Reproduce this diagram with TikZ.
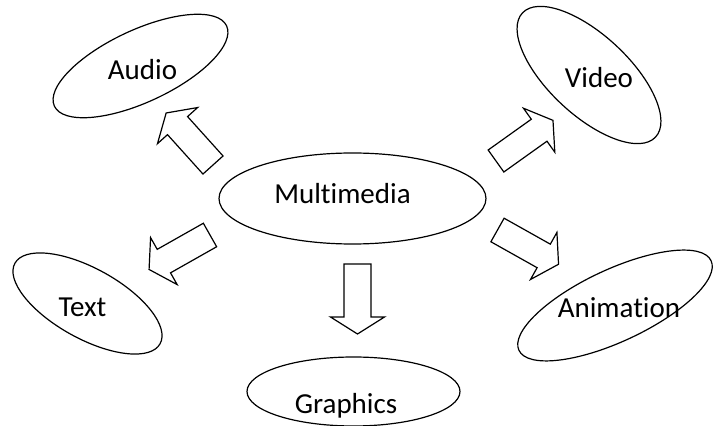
\documentclass[tikz,border=0pt]{standalone}
\usepackage{fontspec}
\setmainfont[Ligatures={NoCommon}]{Carlito}
\usetikzlibrary{shapes.geometric}
\tikzset{
  bubble/.style={draw, ellipse, inner sep=0pt, line width=1.2pt},
  lbl/.style={anchor=base, inner sep=0pt, font=\fontsize{29}{33}\selectfont},
  blockarr/.pic={\draw[line width=1.2pt, line join=miter]
     (0,13.5) -- (53,13.5) -- (53,27) -- (70,0) -- (53,-27) -- (53,-13.5) -- (0,-13.5) -- cycle;}
}
\begin{document}
\begin{tikzpicture}[x=1pt,y=1pt]
\useasboundingbox (0,0) rectangle (713,426);
% ellipses
\node[bubble, minimum width=267pt, minimum height=91pt] (multiE) at (352.5,227.5) {};
\node[bubble, minimum width=190pt, minimum height=72pt, rotate=25] (audioE) at (140.5,360) {};
\node[bubble, minimum width=182pt, minimum height=80pt, rotate=-43] (videoE) at (589,351) {};
\node[bubble, minimum width=166pt, minimum height=70pt, rotate=-29] (textE) at (87.5,122.5) {};
\node[bubble, minimum width=212pt, minimum height=72pt, rotate=25] (animE) at (615,120.5) {};
\node[bubble, minimum width=213pt, minimum height=69pt] (graphE) at (353.5,34.5) {};
% labels
\node[lbl] (multi) at (342.5,222) {Multimedia};
\node[lbl] (audio) at (142.5,346.7) {Audio};
\node[lbl] (video) at (599,338.7) {Video};
\node[lbl] (text) at (82.5,109.3) {Text};
\node[lbl] (anim) at (619,108.7) {Animation};
\node[lbl] (graph) at (346,12) {Graphics};
% block arrows
\coordinate (aA) at (213,261);
\coordinate (aV) at (496,265);
\coordinate (aT) at (210,191);
\coordinate (aN) at (497.5,196);
\coordinate (aG) at (357.5,162);
\pic[rotate=132] at (aA) {blockarr};
\pic[rotate=35.5] at (aV) {blockarr};
\pic[rotate=209.5] at (aT) {blockarr};
\pic[rotate=-29.3] at (aN) {blockarr};
\pic[rotate=-90] at (aG) {blockarr};
\end{tikzpicture}
\end{document}
